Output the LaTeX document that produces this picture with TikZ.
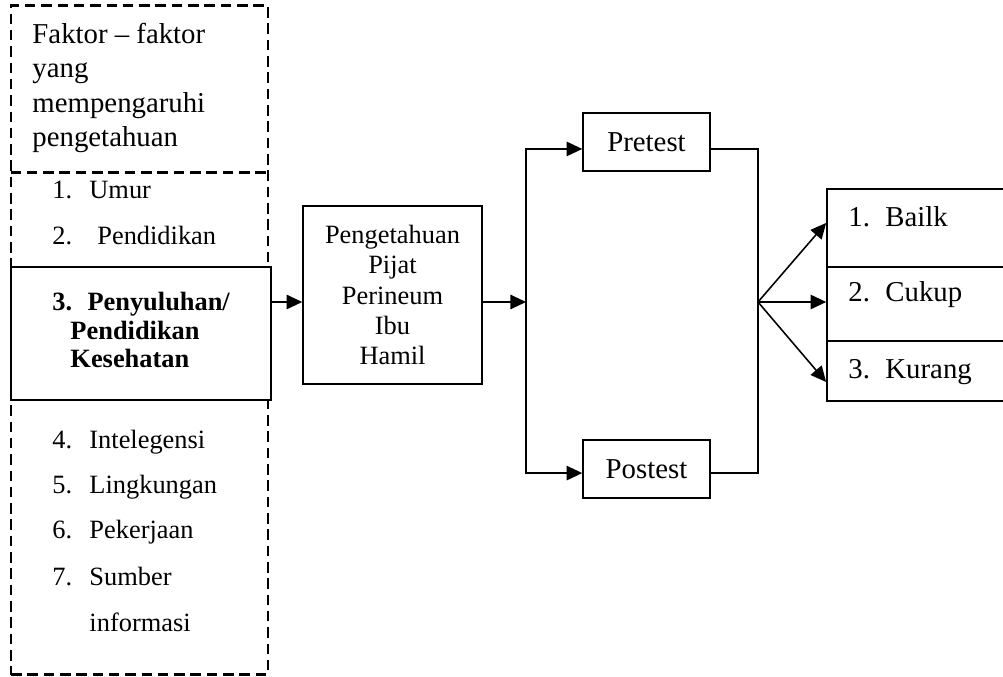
\documentclass[tikz,border=0pt]{standalone}
\usepackage{fontspec}
\setmainfont{Liberation Serif}
\usepackage{tikz}
\usetikzlibrary{arrows.meta}
\newcommand{\itm}[2]{\makebox[15.4pt][l]{#1}#2}

\begin{document}
\begin{tikzpicture}[x=0.4167pt, y=-0.4167pt,
	box/.style={draw, line width=0.65pt, inner sep=0pt},
	dashline/.style={dash pattern=on 4.4pt off 2.4pt, line width=1pt},
	arr/.style={line width=0.65pt, -{Triangle[length=6.5pt, width=6pt]}},
	ln/.style={line width=0.65pt},
	big/.style={font=\fontsize{12}{14}\selectfont},
	item/.style={anchor=west, inner sep=0pt, font=\fontsize{11}{13}\selectfont}]
				\useasboundingbox (0,0) rectangle (1003,677);

				\node[draw, dashline, inner sep=0pt, minimum width=107.1pt, minimum height=278.8pt] (frame) at (139.5,340) {};
				\node[inner sep=0pt, minimum width=107.1pt, minimum height=69.2pt] (hdr) at (139.5,89) {};
				\draw[dashline] (hdr.south west) -- (hdr.south east);
				\node[box, fill=white, minimum width=108.3pt, minimum height=55.4pt] (peny) at (141,333.5) {};

				\node[anchor=west, inner sep=0pt, align=left, font=\fontsize{12}{14.2}\selectfont] (hdrtxt) at (32,88) {Faktor \textendash{} faktor\\yang\\mempengaruhi\\pengetahuan};
				\node[item] (i1) at (52,190) {\itm{1.}{Umur}};
				\node[item] (i2) at (52,236) {\itm{2.}{\hspace{3.3pt}Pendidikan}};
				\node[item, align=left, font=\fontsize{11}{11.7}\selectfont\bfseries] (penytxt) at (52,330) {\makebox[14.6pt][l]{3.}Penyuluhan/\\\hspace*{7.5pt}Pendidikan\\\hspace*{7.5pt}Kesehatan};
				\node[item] (i4) at (52,442) {\itm{4.}{Intelegensi}};
				\node[item] (i5) at (52,487) {\itm{5.}{Lingkungan}};
				\node[item] (i6) at (52,532) {\itm{6.}{Pekerjaan}};
				\node[item] (i7) at (52,577) {\itm{7.}{Sumber}};
				\node[item] (i8) at (89,622) {informasi};

				\node[box, minimum width=74.6pt, minimum height=74.2pt, align=center, font=\fontsize{11}{12.7}\selectfont] (mid) at (392.5,295) {Pengetahuan\\Pijat\\Perineum\\Ibu\\Hamil};
				\node[box, big, minimum width=52.9pt, minimum height=24.2pt] (pre) at (646.5,142) {Pretest};
				\node[box, big, minimum width=52.9pt, minimum height=24.2pt] (post) at (646.5,469) {Postest};

				\node[box, minimum width=76.3pt, minimum height=32.5pt] (r1) at (918.5,228) {};
				\node[box, minimum width=76.3pt, minimum height=30.8pt] (r2) at (918.5,304) {};
				\node[box, minimum width=76.3pt, minimum height=25pt] (r3) at (918.5,371) {};
				\node[item, big] (t1) at (848,217) {\itm{1.}{Bailk}};
				\node[item, big] (t2) at (848,295) {\itm{2.}{Cukup}};
				\node[item, big] (t3) at (848,372) {\itm{3.}{Kurang}};

				\coordinate (j1) at (526,302);
				\coordinate (j2) at (758,302);
				\draw[arr] (peny.east |- j1) -- (mid.west |- j1);
				\draw[arr] (mid.east |- j1) -- (j1);
				\draw[arr] (j1) |- ([yshift=-2.9pt]pre.west);
				\draw[arr] (j1) |- ([yshift=-1.7pt]post.west);
				\draw[ln] ([yshift=-2.9pt]pre.east) -| (j2) |- ([yshift=-1.7pt]post.east);
				\draw[arr] (j2) -- ([yshift=2.1pt]r1.west);
				\draw[arr] (j2) -- (r2.west |- j2);
				\draw[arr] (j2) -- ([yshift=-4.6pt]r3.west);
\end{tikzpicture}
\end{document}
